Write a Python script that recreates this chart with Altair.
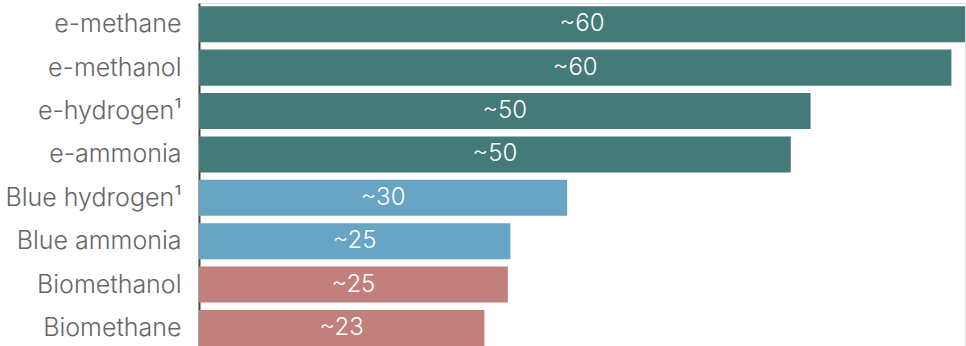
import altair as alt
import pandas as pd

categories = ["e-methane", "e-methanol", "e-hydrogen¹", "e-ammonia",
              "Blue hydrogen¹", "Blue ammonia", "Biomethanol", "Biomethane"]
values = [62.0, 60.9, 49.5, 47.9, 29.8, 25.2, 25.0, 23.1]
labels = ["~60", "~60", "~50", "~50", "~30", "~25", "~25", "~23"]
groups = ["e", "e", "e", "e", "blue", "blue", "bio", "bio"]
group_names = ["e", "blue", "bio"]
group_colors = ["#447A78", "#68A4C3", "#C2807D"]

df = pd.DataFrame({"cat": categories, "val": values, "lab": labels, "grp": groups})

FONT = "Inter"

base = alt.Chart(df).encode(
    y=alt.Y("cat:N", sort=categories, title=None,
            scale=alt.Scale(paddingInner=0.17, paddingOuter=0.037, align=1),
            axis=alt.Axis(domain=True, domainColor="#444444", domainWidth=2,
                          ticks=False, labelFontSize=25, labelColor="#666666",
                          labelFont=FONT, labelFontWeight=300, labelPadding=18,
                          labelLimit=300)),
)

bars = base.mark_bar().encode(
    x=alt.X("val:Q", scale=alt.Scale(domain=[0, 62]), axis=None),
    color=alt.Color("grp:N", scale=alt.Scale(domain=group_names, range=group_colors), legend=None),
)

text = base.mark_text(color="white", fontSize=24, font=FONT, fontWeight=300,
                      align="center", baseline="middle").encode(
    x=alt.X("mid:Q", scale=alt.Scale(domain=[0, 62]), axis=None),
    text="lab:N",
).transform_calculate(mid="datum.val / 2")

chart = (bars + text).properties(
    width=766, height=343,
    autosize=alt.AutoSizeParams(type="none"),
    padding={"left": 199, "top": 3, "right": 1, "bottom": 0},
).configure_view(stroke=None).configure(background="white")

chart.save("out.html", embed_options={"renderer": "svg", "actions": False})
